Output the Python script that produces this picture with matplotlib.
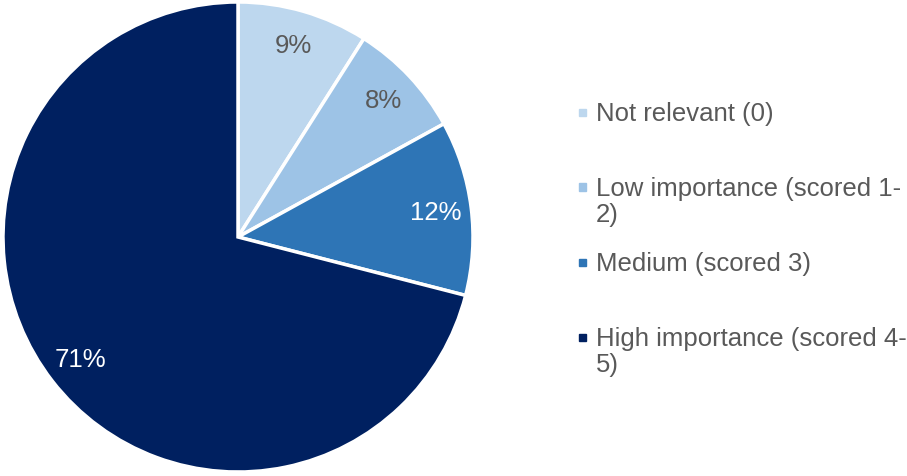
import matplotlib.pyplot as plt

labels = ['Not relevant (0)', 'Low importance (scored 1-\n2)',
          'Medium (scored 3)', 'High importance (scored 4-\n5)']
shares = [9, 8, 12, 71]
colors = ['#BDD7EE', '#9DC3E6', '#2E75B6', '#002060']
pct_colors = ['#595959', '#595959', 'white', 'white']

plt.rcParams['font.family'] = ['Liberation Sans', 'DejaVu Sans']

fig = plt.figure(figsize=(9.07, 4.77), dpi=100)
ax = fig.add_axes([3 / 907, 4 / 477, 470 / 907, 470 / 477])

wedges, texts, autotexts = ax.pie(
    shares, colors=colors, startangle=90, counterclock=False,
    autopct='%d%%', pctdistance=0.85,
    wedgeprops={'edgecolor': 'white', 'linewidth': 2.5},
    textprops={'fontsize': 18.5})
for t, c in zip(autotexts, pct_colors):
    t.set_color(c)
ax.set_xlim(-1.0, 1.0)
ax.set_ylim(-1.0, 1.0)

# legend drawn by hand so every entry gets the same slot
y0 = 1 - 113 / 477
step = 75 / 477
for i, (lab, col) in enumerate(zip(labels, colors)):
    y = y0 - i * step
    fig.patches.append(plt.Rectangle((579 / 907, y - 3.5 / 477), 7 / 907, 7 / 477,
                                     transform=fig.transFigure, color=col))
    fig.text(596 / 907, y + 11 / 477, lab, fontsize=18.5, color='#595959',
             va='top', ha='left', linespacing=1.1)

fig.savefig('out.png', dpi=100)
